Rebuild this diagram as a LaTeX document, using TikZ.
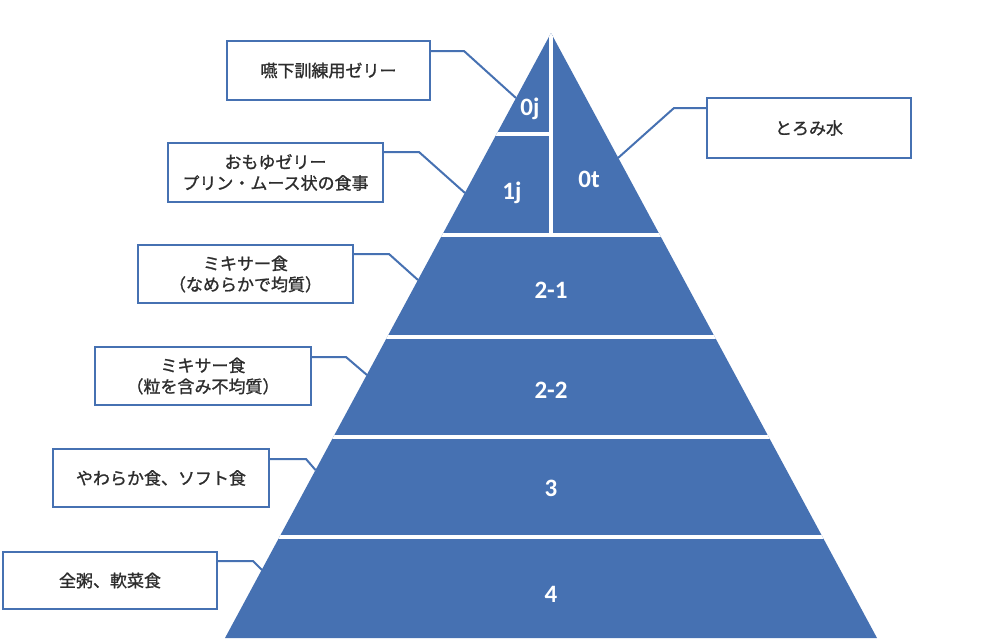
\documentclass[tikz,border=0pt]{standalone}
\usepackage{fontspec}
\newfontfamily\jpfont[FakeBold=1.2]{Noto Sans CJK JP}
\newfontfamily\numfont{Carlito}
\definecolor{pyr}{RGB}{70,113,178}
\definecolor{txt}{RGB}{45,45,45}
\begin{document}
\begin{tikzpicture}[x=1pt,y=-1pt,
  labelbox/.style={draw=pyr,line width=2pt,fill=white,inner sep=0pt,align=center,
    font=\jpfont\fontsize{17}{21}\selectfont,text=txt},
  conn/.style={draw=pyr,line width=2pt},
  lvl/.style={text=white,font=\numfont\bfseries\fontsize{25}{25}\selectfont,anchor=base,inner sep=0pt},
  gap/.style={draw=white,line width=4.5pt}]
\useasboundingbox (0,0) rectangle (1000,638);
\fill[white] (0,0) rectangle (1000,638);
% pyramid
\coordinate (apex) at (551,33);
\coordinate (bl) at (225,638);
\coordinate (br) at (877,638);
\fill[pyr] (apex) -- (bl) -- (br) -- cycle;
\begin{scope}
  \clip (apex) -- (bl) -- (br) -- cycle;
  \draw[gap] (200,235) -- (900,235);
  \draw[gap] (200,337) -- (900,337);
  \draw[gap] (200,437) -- (900,437);
  \draw[gap] (200,537) -- (900,537);
  \draw[gap] (400,134) -- (551,134);
  \draw[gap] (551,20) -- (551,235);
\end{scope}
% level labels
\node[lvl] (l0j) at (530,115) {0j};
\node[lvl] (l1j) at (512,199) {1j};
\node[lvl] (l0t) at (589,187) {0t};
\node[lvl] (l21) at (551,298) {2-1};
\node[lvl] (l22) at (551,398) {2-2};
\node[lvl] (l3) at (551,496) {3};
\node[lvl] (l4) at (551,602) {4};
% edge points
\coordinate (e0j) at (516,98);
\coordinate (e1j) at (465,193);
\coordinate (e0t) at (618,158);
\coordinate (e21) at (418,280);
\coordinate (e22) at (367,375);
\coordinate (e3) at (315.5,470);
\coordinate (e4) at (262,570);
% boxes
\node[labelbox,minimum width=203pt,minimum height=59pt] (b0j) at (328.5,70.5) {嚥下訓練用ゼリー};
\node[labelbox,minimum width=215pt,minimum height=59pt] (b1j) at (275.5,172.5) {おもゆゼリー\\プリン・ムース状の食事};
\node[labelbox,minimum width=204pt,minimum height=60pt] (b0t) at (809,128) {とろみ水};
\node[labelbox,minimum width=215pt,minimum height=58pt] (b21) at (245.5,274) {ミキサー食\\（なめらかで均質）};
\node[labelbox,minimum width=216pt,minimum height=58pt] (b22) at (203,376) {ミキサー食\\（粒を含み不均質）};
\node[labelbox,minimum width=216pt,minimum height=58pt] (b3) at (161,478) {やわらか食、ソフト食};
\node[labelbox,minimum width=214pt,minimum height=57pt] (b4) at (110,580.5) {全粥、軟菜食};
% connectors
\draw[conn] ([yshift=-11pt]b0j.north east) -- ++(33,0) -- (e0j);
\draw[conn] ([yshift=-10pt]b1j.north east) -- ++(35,0) -- (e1j);
\draw[conn] ([yshift=-11pt]b0t.north west) -- ++(-32,0) -- (e0t);
\draw[conn] ([yshift=-10pt]b21.north east) -- ++(35,0) -- (e21);
\draw[conn] ([yshift=-11pt]b22.north east) -- ++(34,0) -- (e22);
\draw[conn] ([yshift=-11pt]b3.north east) -- ++(36,0) -- (e3);
\draw[conn] ([yshift=-10pt]b4.north east) -- ++(35,0) -- (e4);
\end{tikzpicture}
\end{document}
